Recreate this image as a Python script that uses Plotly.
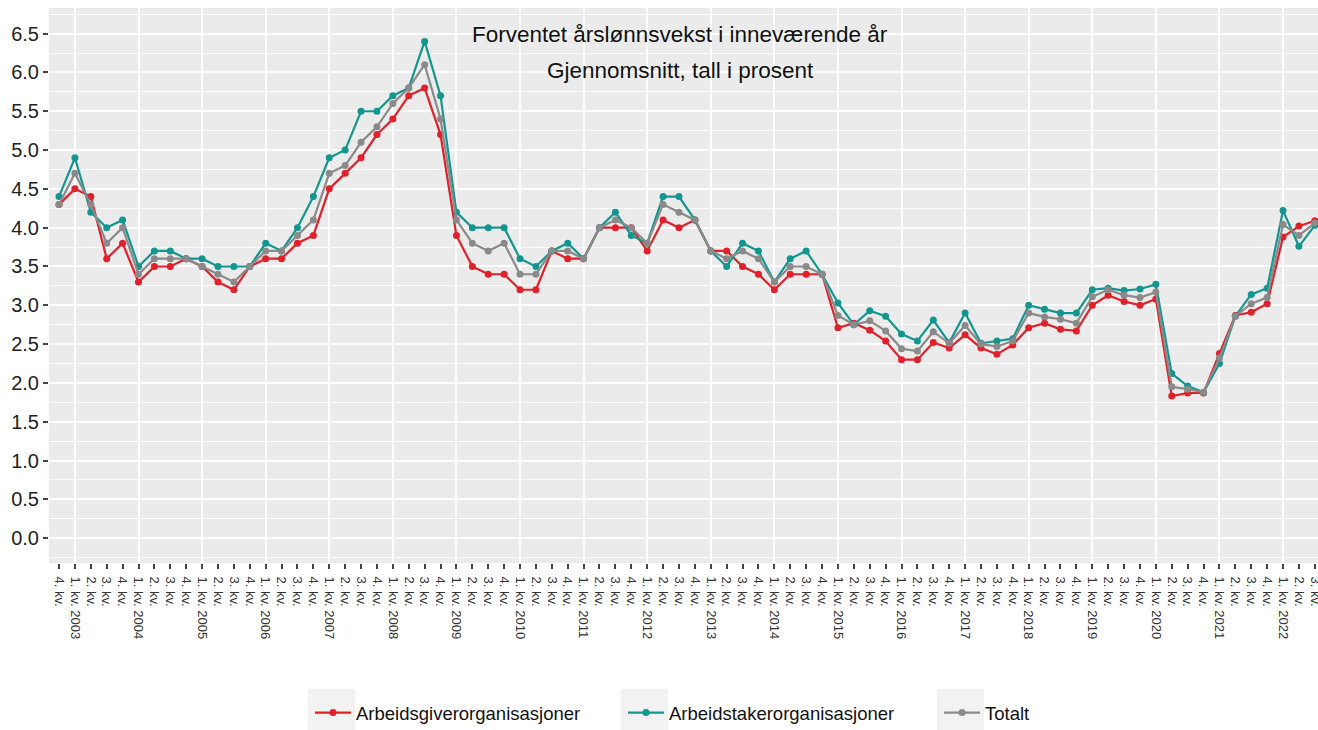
import plotly.graph_objects as go

# ---------------- data ----------------
first_year = 2002
first_quarter = 4
n_points = 80

arbeidsgiver = [4.3, 4.5, 4.4, 3.6, 3.8, 3.3, 3.5, 3.5, 3.6, 3.5, 3.3, 3.2, 3.5, 3.6, 3.6, 3.8,
                3.9, 4.5, 4.7, 4.9, 5.2, 5.4, 5.7, 5.8, 5.2, 3.9, 3.5, 3.4, 3.4, 3.2, 3.2, 3.7,
                3.6, 3.6, 4.0, 4.0, 4.0, 3.7, 4.1, 4.0, 4.1, 3.7, 3.7, 3.5, 3.4, 3.2, 3.4, 3.4,
                3.4, 2.71, 2.77, 2.68, 2.54, 2.30, 2.30, 2.52, 2.45, 2.62, 2.45, 2.37, 2.49, 2.71,
                2.77, 2.69, 2.67, 3.00, 3.13, 3.05, 3.00, 3.08, 1.83, 1.87, 1.87, 2.38, 2.87, 2.91,
                3.02, 3.88, 4.02, 4.09]
arbeidstaker = [4.4, 4.9, 4.2, 4.0, 4.1, 3.5, 3.7, 3.7, 3.6, 3.6, 3.5, 3.5, 3.5, 3.8, 3.7, 4.0,
                4.4, 4.9, 5.0, 5.5, 5.5, 5.7, 5.8, 6.4, 5.7, 4.2, 4.0, 4.0, 4.0, 3.6, 3.5, 3.7,
                3.8, 3.6, 4.0, 4.2, 3.9, 3.8, 4.4, 4.4, 4.1, 3.7, 3.5, 3.8, 3.7, 3.3, 3.6, 3.7,
                3.4, 3.03, 2.75, 2.93, 2.86, 2.63, 2.54, 2.81, 2.52, 2.90, 2.51, 2.54, 2.57, 3.00,
                2.95, 2.90, 2.90, 3.20, 3.22, 3.19, 3.21, 3.27, 2.12, 1.96, 1.88, 2.25, 2.86, 3.14,
                3.22, 4.22, 3.76, 4.03]
totalt = [4.3, 4.7, 4.3, 3.8, 4.0, 3.4, 3.6, 3.6, 3.6, 3.5, 3.4, 3.3, 3.5, 3.7, 3.7, 3.9,
          4.1, 4.7, 4.8, 5.1, 5.3, 5.6, 5.8, 6.1, 5.4, 4.1, 3.8, 3.7, 3.8, 3.4, 3.4, 3.7,
          3.7, 3.6, 4.0, 4.1, 4.0, 3.8, 4.3, 4.2, 4.1, 3.7, 3.6, 3.7, 3.6, 3.3, 3.5, 3.5,
          3.4, 2.87, 2.75, 2.80, 2.67, 2.44, 2.41, 2.66, 2.51, 2.74, 2.50, 2.47, 2.54, 2.90,
          2.85, 2.82, 2.77, 3.11, 3.20, 3.13, 3.10, 3.17, 1.95, 1.92, 1.88, 2.32, 2.86, 3.02,
          3.10, 4.04, 3.90, 4.06]

series_names = ["Arbeidsgiverorganisasjoner", "Arbeidstakerorganisasjoner", "Totalt"]
series_colors = ["#E0202A", "#12968F", "#8A8A8A"]

title_line1 = "Forventet årslønnsvekst i inneværende år"
title_line2 = "Gjennomsnitt, tall i prosent"

y_ticks = [0.0, 0.5, 1.0, 1.5, 2.0, 2.5, 3.0, 3.5, 4.0, 4.5, 5.0, 5.5, 6.0, 6.5]

# quarter labels
x_idx = list(range(n_points))
x_labels = []
year_idx = []
for k in x_idx:
    q = (first_quarter - 1 + k) % 4 + 1
    yr = first_year + (first_quarter - 1 + k) // 4
    if q == 1:
        x_labels.append(f"{q}. kv. {yr}")
        year_idx.append(k)
    else:
        x_labels.append(f"{q}. kv.")

# ---------------- figure ----------------
FONT = "Arial, Liberation Sans, sans-serif"
fig = go.Figure()
legend_ids = ["legend", "legend2", "legend3"]
for vals, name, col, lg in zip([arbeidsgiver, arbeidstaker, totalt], series_names, series_colors, legend_ids):
    fig.add_trace(go.Scatter(
        x=x_idx, y=vals, name=name, mode="lines+markers",
        line=dict(color=col, width=2.2),
        marker=dict(color=col, size=7),
        legend=lg,
    ))

# plot area geometry (pixels)
L, T, R, B = 49, 8, 1318, 563
W, H = R - L, B - T

def px2x(px):
    return (px - L) / W

def px2y(py):
    return (B - py) / H

# title annotations
for txt, ypx in [(title_line1, 35), (title_line2, 71)]:
    fig.add_annotation(text=txt, x=px2x(680), y=px2y(ypx), xref="paper", yref="paper",
                       xanchor="center", yanchor="middle", showarrow=False,
                       font=dict(family=FONT, size=22.5, color="#111111"))

# legend key background boxes
box_left = [308, 621, 937]
for x0 in box_left:
    fig.add_shape(type="rect", xref="paper", yref="paper",
                  x0=px2x(x0), x1=px2x(x0 + 47), y0=px2y(689), y1=px2y(736),
                  fillcolor="#F2F2F2", line=dict(width=0), layer="below")

legend_common = dict(orientation="h", xanchor="left", yanchor="middle", bgcolor="rgba(0,0,0,0)",
                     font=dict(family=FONT, size=18.5, color="#111111"), itemwidth=36,
                     borderwidth=0)
layout_legends = {}
for lg, x0 in zip(legend_ids, box_left):
    layout_legends[lg] = dict(legend_common, x=px2x(x0 + 2), y=px2y(713))

fig.update_layout(
    width=1318, height=730,
    margin=dict(l=L, r=1318 - R, t=T, b=730 - B, pad=0, autoexpand=False),
    paper_bgcolor="white", plot_bgcolor="#EBEBEB",
    font=dict(family=FONT),
    showlegend=True,
    **layout_legends,
)

fig.update_xaxes(
    range=[-0.63, 79.2], tickmode="array", tickvals=x_idx, ticktext=x_labels,
    tickangle=90, tickfont=dict(family=FONT, size=13, color="#333333"),
    ticks="outside", ticklen=5, tickwidth=1.5, tickcolor="#444444", ticklabelstandoff=5,
    ticklabeloverflow="allow",
    showgrid=False, zeroline=False, showline=False, automargin=False,
    minor=dict(tickmode="array", tickvals=year_idx, showgrid=True, gridcolor="white",
               gridwidth=2.2, ticks=""),
)
fig.update_yaxes(
    range=[-0.32, 6.83], tickmode="array", tickvals=y_ticks,
    ticktext=[f"{v:.1f}" for v in y_ticks],
    tickfont=dict(family=FONT, size=20, color="#222222"),
    ticks="outside", ticklen=5, tickwidth=1.5, tickcolor="#444444",
    showgrid=True, gridcolor="white", gridwidth=2.2, zeroline=False, showline=False,
    automargin=False,
    minor=dict(dtick=0.25, tick0=0.25, showgrid=True, gridcolor="white", gridwidth=1, ticks=""),
)

fig.write_html("out.html", config={"displayModeBar": False},
               post_script="document.body.style.margin='0';")
